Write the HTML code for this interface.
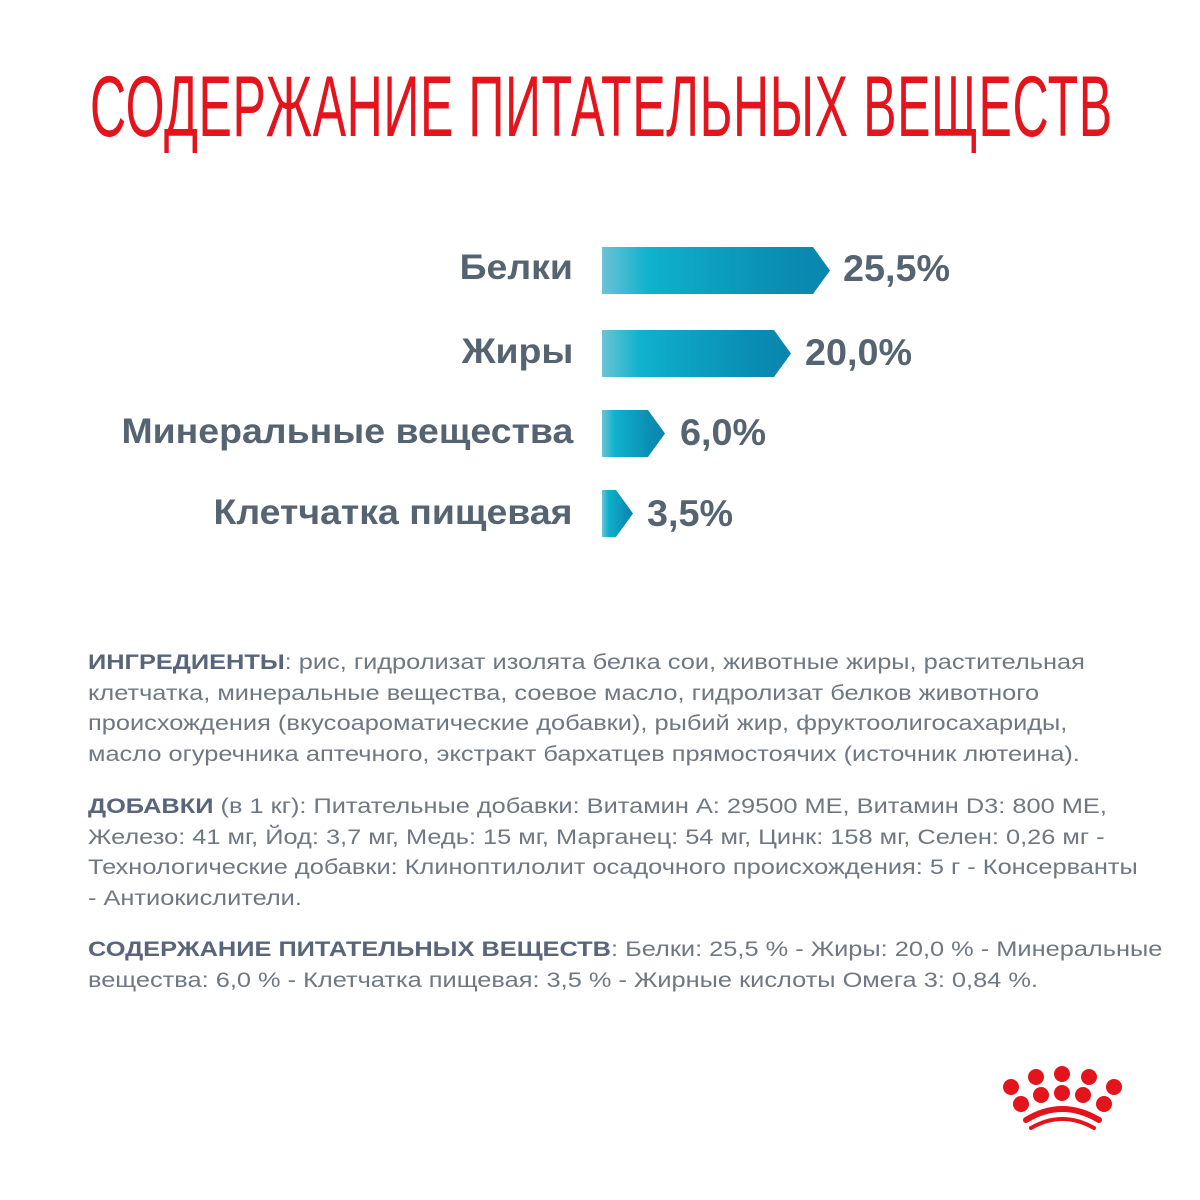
<!DOCTYPE html>
<html><head><meta charset="utf-8"><style>
body{margin:0;width:1200px;height:1200px;background:#fff;position:relative;overflow:hidden;font-family:"Liberation Sans","DejaVu Sans",sans-serif}
.t{position:absolute;left:90px;top:58px;font-size:86px;color:#e3141c;white-space:nowrap;transform-origin:0 0;transform:scaleX(0.582);letter-spacing:1px}
.l{position:absolute;right:627px;font-size:35px;font-weight:bold;color:#566371;white-space:nowrap;transform-origin:100% 50%;transform:scaleX(1.07)}
.v{position:absolute;font-size:37px;font-weight:bold;color:#566371;white-space:nowrap;transform-origin:0 50%;transform:scaleX(1.02)}
.b{position:absolute;left:602px;height:47px;background:linear-gradient(90deg,#6cc3d6 0%,#0fb2cc 20%,#0a8fb5 75%,#0a85ad 100%)}
.p{position:absolute;left:88px;white-space:nowrap;font-size:21.5px;line-height:30.7px;color:#6e7883;transform-origin:0 0;transform:scaleX(1.18)}
.p b{color:#59657a}
</style></head><body>
<div class="t">СОДЕРЖАНИЕ ПИТАТЕЛЬНЫХ ВЕЩЕСТВ</div>
<div class="l" style="top:248px">Белки</div>
<div class="l" style="top:332px">Жиры</div>
<div class="l" style="top:412px">Минеральные вещества</div>
<div class="l" style="top:493px">Клетчатка пищевая</div>
<div class="b" style="top:247px;width:228px;clip-path:polygon(0 0,211px 0,228px 50%,211px 100%,0 100%)"></div>
<div class="b" style="top:330px;width:189px;clip-path:polygon(0 0,172px 0,189px 50%,172px 100%,0 100%)"></div>
<div class="b" style="top:410px;width:63px;clip-path:polygon(0 0,46px 0,63px 50%,46px 100%,0 100%)"></div>
<div class="b" style="top:490px;width:31px;clip-path:polygon(0 0,14px 0,31px 50%,14px 100%,0 100%)"></div>
<div class="v" style="left:843px;top:248px">25,5%</div>
<div class="v" style="left:805px;top:332px">20,0%</div>
<div class="v" style="left:680px;top:412px">6,0%</div>
<div class="v" style="left:647px;top:493px">3,5%</div>
<div class="p" style="top:647px"><b>ИНГРЕДИЕНТЫ</b>: рис, гидролизат изолята белка сои, животные жиры, растительная<br>клетчатка, минеральные вещества, соевое масло, гидролизат белков животного<br>происхождения (вкусоароматические добавки), рыбий жир, фруктоолигосахариды,<br>масло огуречника аптечного, экстракт бархатцев прямостоячих (источник лютеина).</div>
<div class="p" style="top:791px"><b>ДОБАВКИ</b> (в 1 кг): Питательные добавки: Витамин А: 29500 МЕ, Витамин D3: 800 МЕ,<br>Железо: 41 мг, Йод: 3,7 мг, Медь: 15 мг, Марганец: 54 мг, Цинк: 158 мг, Селен: 0,26 мг -<br>Технологические добавки: Клиноптилолит осадочного происхождения: 5 г - Консерванты<br>- Антиокислители.</div>
<div class="p" style="top:934px"><b>СОДЕРЖАНИЕ ПИТАТЕЛЬНЫХ ВЕЩЕСТВ</b>: Белки: 25,5 % - Жиры: 20,0 % - Минеральные<br>вещества: 6,0 % - Клетчатка пищевая: 3,5 % - Жирные кислоты Омега 3: 0,84 %.</div>
<svg style="position:absolute;left:0;top:0" width="1200" height="1200">
<g fill="#e3141c">
<circle cx="1011" cy="1087" r="8"/><circle cx="1036" cy="1077" r="8"/><circle cx="1062" cy="1074" r="8"/><circle cx="1089" cy="1077" r="8"/><circle cx="1114" cy="1087" r="8"/>
<circle cx="1021" cy="1104" r="8"/><circle cx="1041" cy="1095" r="8"/><circle cx="1062" cy="1093" r="8"/><circle cx="1083" cy="1095" r="8"/><circle cx="1104" cy="1104" r="8"/>
</g>
<g fill="none" stroke="#e3141c" stroke-linecap="round">
<path d="M1026 1120 Q1062 1098 1099 1120" stroke-width="6"/>
<path d="M1031 1128 Q1062 1110 1094 1128" stroke-width="4"/>
</g>
</svg>
</body></html>
